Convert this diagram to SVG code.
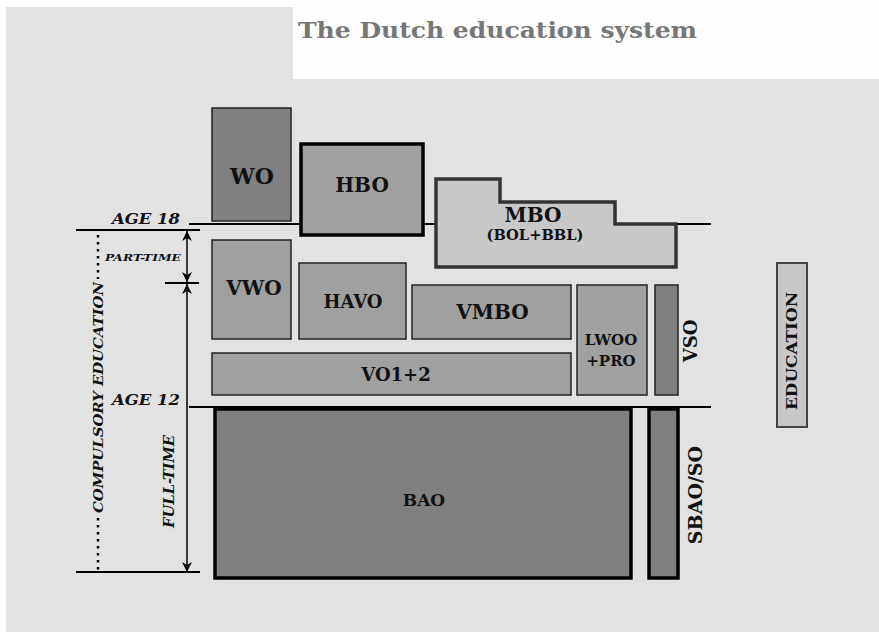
<svg xmlns="http://www.w3.org/2000/svg" width="879" height="632" viewBox="0 0 879 632">
<defs>
<style>
.lbl{font-family:"DejaVu Serif","Liberation Serif",serif;font-weight:bold;fill:#111;text-anchor:middle}
.ann{font-family:"DejaVu Serif","Liberation Serif",serif;font-weight:bold;font-style:italic;fill:#111}
.thin{stroke:#222;stroke-width:1.5}
.thick{stroke:#000;stroke-width:3.5}
.dark{fill:#808080}
.mid{fill:#a0a0a0}
.light{fill:#c8c8c8}
.ln{stroke:#000;stroke-width:2;fill:none}
</style>
<marker id="ah" viewBox="0 0 10 10" refX="10" refY="5" markerWidth="13" markerHeight="10" orient="auto-start-reverse" markerUnits="userSpaceOnUse">
<path d="M0,0 L10,5 L0,10 L3,5 z" fill="#000"/>
</marker>
</defs>
<rect x="0" y="0" width="879" height="632" fill="#fff"/>
<rect x="6" y="7" width="873" height="625" fill="#e2e2e2"/>
<rect x="293" y="0" width="586" height="79" fill="#fefefe"/>
<text x="298" y="38" font-family="DejaVu Serif, Liberation Serif, serif" font-weight="bold" font-size="22" fill="#777" textLength="399" lengthAdjust="spacingAndGlyphs">The Dutch education system</text>

<g id="connectors">
<line class="ln" x1="189" y1="224" x2="711" y2="224" stroke-width="3"/>
<line class="ln" x1="76" y1="230" x2="200" y2="230"/>
<line class="ln" x1="165" y1="283" x2="199" y2="283"/>
<line class="ln" x1="189" y1="407" x2="711" y2="407" stroke-width="1.5"/>
<line class="ln" x1="76" y1="572" x2="200" y2="572"/>
<line x1="187" y1="231" x2="187" y2="282" stroke="#000" stroke-width="1.5" marker-start="url(#ah)" marker-end="url(#ah)"/>
<line x1="187" y1="284" x2="187" y2="572" stroke="#000" stroke-width="1.5" marker-start="url(#ah)" marker-end="url(#ah)"/>
<line x1="98" y1="235" x2="98" y2="279" stroke="#000" stroke-width="2.5" stroke-dasharray="2.5 4.5"/>
<line x1="98" y1="518" x2="98" y2="571" stroke="#000" stroke-width="2.5" stroke-dasharray="2.5 4.5"/>
</g>

<g id="annotations">
<text class="ann" x="112" y="224" font-size="14" textLength="68" lengthAdjust="spacingAndGlyphs">AGE 18</text>
<text class="ann" x="112" y="405" font-size="14" textLength="68" lengthAdjust="spacingAndGlyphs">AGE 12</text>
<text class="ann" x="105" y="261" font-size="10" textLength="76" lengthAdjust="spacingAndGlyphs">PART-TIME</text>
<text class="ann" transform="translate(174,528) rotate(-90)" font-size="14" textLength="93" lengthAdjust="spacingAndGlyphs">FULL-TIME</text>
<text class="ann" transform="translate(103,513) rotate(-90)" font-size="12" textLength="231" lengthAdjust="spacingAndGlyphs">COMPULSORY EDUCATION</text>
</g>

<g id="WO"><rect x="212" y="108" width="79" height="113" class="dark thin"/><text class="lbl" x="252" y="184" font-size="22">WO</text></g>
<g id="HBO"><rect x="301" y="144" width="122" height="91" class="mid thick"/><text class="lbl" x="362" y="192" font-size="20">HBO</text></g>
<g id="MBO"><path d="M436,179 H500 V202 H615 V224 H676 V267 H436 Z" class="light" stroke="#333" stroke-width="3.5"/><text class="lbl" x="533" y="222" font-size="20">MBO</text><text class="lbl" x="535" y="240" font-size="14" textLength="97" lengthAdjust="spacingAndGlyphs">(BOL+BBL)</text></g>
<g id="VWO"><rect x="212" y="240" width="79" height="99" class="mid thin"/><text class="lbl" x="254" y="295" font-size="20">VWO</text></g>
<g id="HAVO"><rect x="299" y="263" width="107" height="76" class="mid thin"/><text class="lbl" x="353" y="308" font-size="18">HAVO</text></g>
<g id="VMBO"><rect x="412" y="285" width="159" height="54" class="mid thin"/><text class="lbl" x="492.5" y="319" font-size="20">VMBO</text></g>
<g id="VO12"><rect x="212" y="353" width="359" height="42" class="mid thin"/><text class="lbl" x="396" y="381" font-size="18">VO1+2</text></g>
<g id="LWOO"><rect x="577" y="285" width="70" height="110" class="mid thin"/><text class="lbl" x="611" y="345" font-size="15">LWOO</text><text class="lbl" x="611" y="366" font-size="15">+PRO</text></g>
<g id="VSO"><rect x="655" y="285" width="23" height="110" class="dark thin"/><text class="lbl" transform="translate(697,341) rotate(-90)" font-size="18">VSO</text></g>
<g id="BAO"><rect x="215" y="409" width="416" height="169" class="dark thick"/><text class="lbl" x="424" y="506" font-size="17">BAO</text></g>
<g id="SBAO"><rect x="649" y="409" width="29" height="169" class="dark thick"/><text class="lbl" transform="translate(702,495) rotate(-90)" font-size="19">SBAO/SO</text></g>
<g id="EDUCATION"><rect x="777" y="263" width="30" height="164" class="light" stroke="#444" stroke-width="2"/><text class="lbl" transform="translate(797,351) rotate(-90)" font-size="14" textLength="118" lengthAdjust="spacingAndGlyphs">EDUCATION</text></g>
</svg>
